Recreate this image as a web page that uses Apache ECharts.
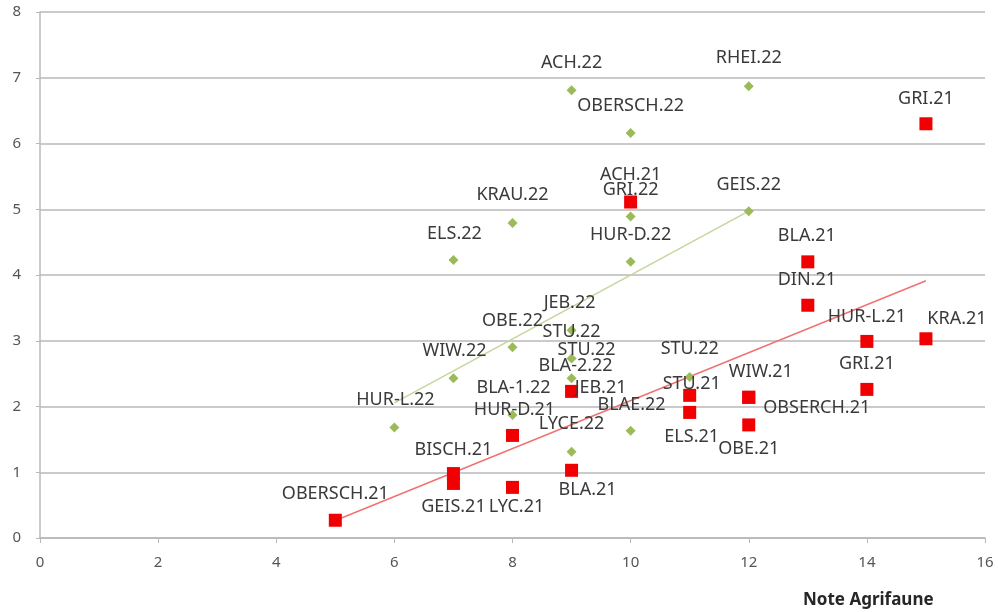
<!DOCTYPE html>
<html>
<head>
<meta charset="utf-8">
<script src="https://cdn.jsdelivr.net/npm/echarts@6/dist/echarts.min.js"></script>
<style>
  html, body { margin: 0; padding: 0; background: #ffffff; }
  #chart { width: 998px; height: 612px; }
</style>
</head>
<body>
<div id="chart"></div>
<script>
// 2022 sites
const names22 = ['ACH.22','RHEI.22','OBERSCH.22','GEIS.22','GRI.22','KRAU.22','ELS.22','HUR-D.22','JEB.22','OBE.22','STU.22','STU.22','BLA-2.22','STU.22','WIW.22','BLA-1.22','HUR-L.22','BLAE.22','LYCE.22'];
const x22 = [9, 12, 10, 12, 10, 8, 7, 10, 9, 8, 9, 9, 9, 11, 7, 8, 6, 10, 9];
const y22 = [6.81, 6.87, 6.16, 4.97, 4.89, 4.79, 4.23, 4.2, 3.16, 2.9, 2.73, 2.43, 2.2, 2.45, 2.43, 1.87, 1.68, 1.63, 1.31];

// 2021 sites
const names21 = ['GRI.21','ACH.21','BLA.21','DIN.21','HUR-L.21','KRA.21','GRI.21','WIW.21','OBSERCH.21','OBE.21','STU.21','ELS.21','JEB.21','HUR-D.21','BLA.21','LYC.21','BISCH.21','GEIS.21','OBERSCH.21'];
const x21 = [15, 10, 13, 13, 14, 15, 14, 12, 12, 12, 11, 11, 9, 8, 9, 8, 7, 7, 5];
const y21 = [6.3, 5.11, 4.2, 3.54, 2.99, 3.03, 2.26, 2.14, 2.14, 1.72, 2.17, 1.91, 2.23, 1.56, 1.03, 0.77, 0.98, 0.83, 0.27];

// axis title
const xTitle = 'Note Agrifaune';

// label placement (pixel shift of each data label from its marker)
const shift22 = [[0,-27],[0,-28],[0,-27],[0,-26],[0,-27],[0,-28],[1,-26],[0,-27],[-2,-27],[0,-26],[0,-27],[15,-28],[4,-27],[0,-28],[1,-27],[1,-27],[1,-28],[1,-26],[0,-28]];
const shift21 = [[0,-25],[0,-27],[-1,-26],[-1,-25],[0,-25],[31,-20],[0,-26],[12,-25],[68,11],[0,24],[2,-11],[2,24],[29,-4],[2,-26],[16,20],[4,20],[0,-24],[0,23],[0,-26]];

// least-squares trend line spanning the x range of a series
function trend(xs, ys) {
  const n = xs.length;
  const mx = xs.reduce((a, b) => a + b, 0) / n;
  const my = ys.reduce((a, b) => a + b, 0) / n;
  let sxy = 0, sxx = 0;
  for (let i = 0; i < n; i++) { sxy += (xs[i] - mx) * (ys[i] - my); sxx += (xs[i] - mx) ** 2; }
  const b = sxy / sxx, a = my - b * mx;
  const lo = Math.min(...xs), hi = Math.max(...xs);
  return [[lo, a + b * lo], [hi, a + b * hi]];
}

function points(names, xs, ys, shifts) {
  return names.map((nm, i) => ({
    name: nm,
    value: [xs[i], ys[i]],
    label: { offset: shifts[i] }
  }));
}

const labelStyle = {
  show: true,
  position: 'inside',
  formatter: p => p.name,
  color: '#3a3a3a',
  fontFamily: 'Noto Sans',
  fontSize: 18
};

const chart = echarts.init(document.getElementById('chart'), null, { renderer: 'canvas' });
chart.setOption({
  animation: false,
  backgroundColor: '#ffffff',
  grid: { left: 40, right: 13, top: 12, bottom: 74, containLabel: false },
  xAxis: {
    type: 'value', min: 0, max: 16, interval: 2,
    axisLine: { show: true, lineStyle: { color: '#B8B8B8', width: 1.5 } },
    axisTick: { show: true, length: 5, lineStyle: { color: '#B8B8B8' } },
    axisLabel: { color: '#555555', fontFamily: 'Noto Sans', fontSize: 15, margin: 17 },
    splitLine: { show: false }
  },
  yAxis: {
    type: 'value', min: 0, max: 8, interval: 1,
    axisLine: { show: true, lineStyle: { color: '#B8B8B8', width: 1.5 } },
    axisTick: { show: true, length: 4, lineStyle: { color: '#B8B8B8' } },
    axisLabel: { color: '#555555', fontFamily: 'Noto Sans', fontSize: 15, margin: 19 },
    splitLine: { show: true, lineStyle: { color: '#B8B8B8', width: 1.5 } }
  },
  graphic: [{
    type: 'text', left: 803, top: 592,
    style: { text: xTitle, fill: '#262626', font: 'bold 17px "Noto Sans"' }
  }],
  series: [
    {
      name: 'trend22', type: 'line', data: trend(x22, y22), showSymbol: false, symbol: 'none',
      lineStyle: { color: '#C4D79B', width: 1.5 }, z: 1, silent: true
    },
    {
      name: 'trend21', type: 'line', data: trend(x21, y21), showSymbol: false, symbol: 'none',
      lineStyle: { color: '#F07272', width: 1.5 }, z: 1, silent: true
    },
    {
      name: '2022', type: 'scatter', symbol: 'diamond', symbolSize: 10,
      itemStyle: { color: '#9BBB59', opacity: 1 },
      label: labelStyle,
      data: points(names22, x22, y22, shift22), z: 2
    },
    {
      name: '2021', type: 'scatter', symbol: 'rect', symbolSize: 13,
      itemStyle: { color: '#F00000', opacity: 1 },
      label: labelStyle,
      data: points(names21, x21, y21, shift21), z: 3
    }
  ]
});
</script>
</body>
</html>
